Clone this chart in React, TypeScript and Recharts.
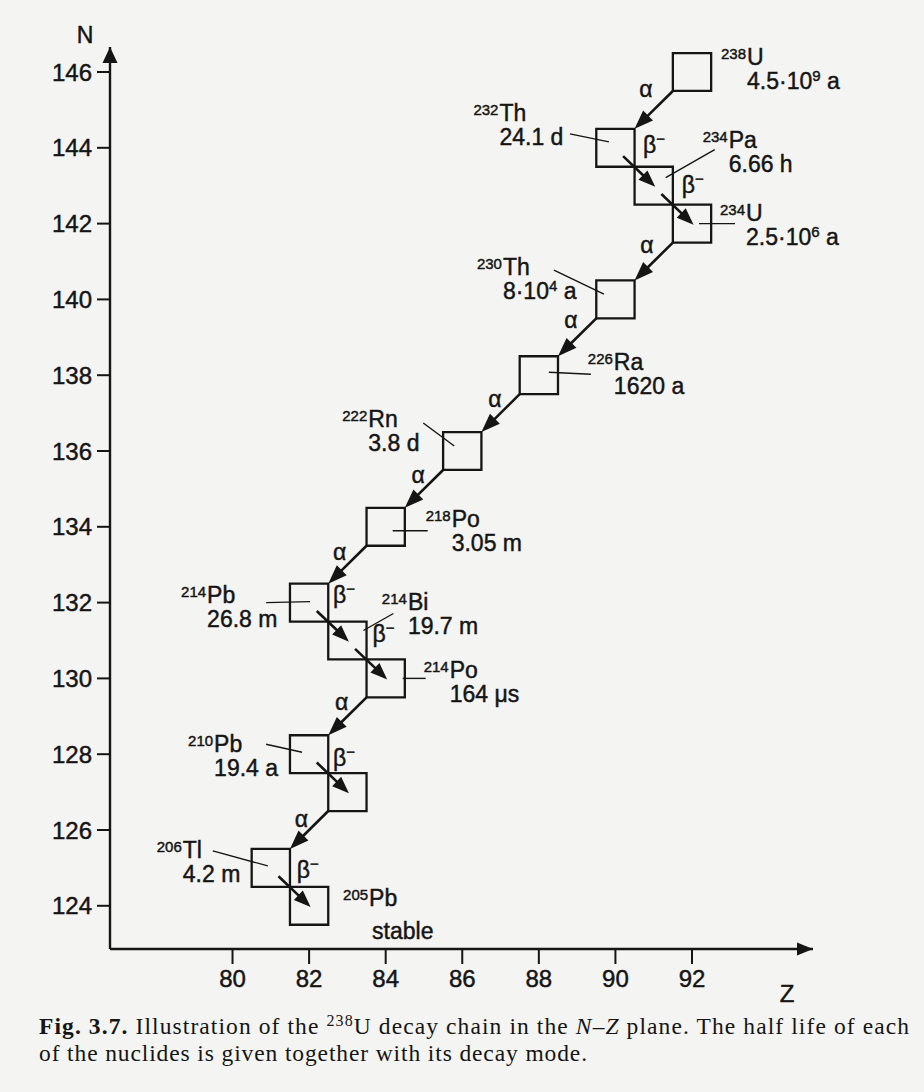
import React from 'react';
import { ScatterChart, Scatter, XAxis, YAxis, ReferenceArea, ReferenceLine, ReferenceDot } from 'recharts';

// ---- data (book typos "232Th" and "205Pb" kept) ----
const protonNumbers = [92, 90, 91, 92, 90, 88, 86, 84, 82, 83, 84, 82, 83, 81, 82];
const neutronNumbers = [146, 144, 143, 142, 140, 138, 136, 134, 132, 131, 130, 128, 127, 125, 124];
const massLabels = ['238', '232', '234', '234', '230', '226', '222', '218', '214', '214', '214', '210', '', '206', '205'];
const elementSymbols = ['U', 'Th', 'Pa', 'U', 'Th', 'Ra', 'Rn', 'Po', 'Pb', 'Bi', 'Po', 'Pb', 'Bi', 'Tl', 'Pb'];
const halfLives = ['4.5·10^9 a', '24.1 d', '6.66 h', '2.5·10^6 a', '8·10^4 a', '1620 a', '3.8 d', '3.05 m', '26.8 m', '19.7 m', '164 μs', '19.4 a', '', '4.2 m', 'stable'];
const decayModes = ['α', 'β', 'β', 'α', 'α', 'α', 'α', 'α', 'β', 'β', 'α', 'β', 'α', 'β'];
const zTicks = [80, 82, 84, 86, 88, 90, 92];
const nTicks = [124, 126, 128, 130, 132, 134, 136, 138, 140, 142, 144, 146];
const zDomain: [number, number] = [76.8, 95.16];
const nDomain: [number, number] = [122.86, 146.66];

const nuclides = protonNumbers.map((z, i) => ({
  index: i,
  z,
  n: neutronNumbers[i],
  mass: massLabels[i],
  symbol: elementSymbols[i],
  halfLife: halfLives[i],
}));

// ---- styling / layout (pixel offsets of labels from each nuclide square) ----
const INK = '#151515';
const SANS = '"Liberation Sans", Arial, Helvetica, sans-serif';
const SERIF = '"Liberation Serif", "Times New Roman", serif';
const LABEL_FS = 23;
const SUP_FS = 15;
const TEXT_STROKE = { stroke: INK, strokeWidth: 0.45 };

type Layout = { sx: number; sy: number; lead: number[] | null; md: number[] | null };
const labelLayout: Layout[] = [
  { sx: 55, sy: -7, lead: null, md: [-46, 25] },
  { sx: -116, sy: -27, lead: [-45.5, -14, -6.5, -6], md: [27.5, 5] },
  { sx: 75, sy: -38, lead: [61, -36, 12, -8], md: [28, 7] },
  { sx: 54, sy: -3, lead: [7, 0, 43, 0], md: [-45, 29] },
  { sx: -112.5, sy: -24, lead: [-61.5, -29.4, -11.5, -5.4], md: [-44.5, 29] },
  { sx: 75, sy: -5, lead: [10, -3, 52, -1], md: [-44, 32] },
  { sx: -94, sy: -24, lead: [-39, -28, -8, -5], md: [-44, 32] },
  { sx: 66, sy: 0, lead: [7, 4, 42, 4], md: [-46, 33] },
  { sx: -102, sy: 0, lead: [-43, 0, 1, -1], md: [24, 0.5] },
  { sx: 60.5, sy: -30.5, lead: [16, -10, 46, -27], md: [25, 1.5] },
  { sx: 64, sy: 0, lead: [17, 0, 40, 0], md: [-44, 31.5] },
  { sx: -95, sy: -2, lead: [-43, -10, -7, -2], md: [24, 12] },
  { sx: 0, sy: 0, lead: null, md: [-46, 35] },
  { sx: -88, sy: -10, lead: [-58, -17, -3, -2], md: [26, 10] },
  { sx: 60, sy: 0, lead: null, md: null },
];

const renderSup = (s: string) => {
  const parts = s.split(/\^(\d+)/);
  const out: React.ReactNode[] = [];
  let raised = false;
  parts.forEach((p, k) => {
    if (k % 2 === 1) {
      out.push(<tspan key={k} fontSize={SUP_FS} dy={-8}>{p}</tspan>);
      raised = true;
    } else if (p) {
      out.push(<tspan key={k} dy={raised ? 8 : 0}>{p}</tspan>);
      raised = false;
    }
  });
  return out;
};

const NuclideLabel = (props: any) => {
  const { cx, cy, payload } = props;
  if (cx == null || cy == null || !payload) return <g />;
  const i = payload.index;
  const L = labelLayout[i];
  const mode = decayModes[i];
  const sx = cx + L.sx;
  const sy = cy + L.sy;
  return (
    <g fontFamily={SANS} fill={INK} style={{ whiteSpace: 'pre' }}>
      {L.lead && (
        <line x1={cx + L.lead[0]} y1={cy + L.lead[1]} x2={cx + L.lead[2]} y2={cy + L.lead[3]} stroke={INK} strokeWidth={1.4} />
      )}
      <g {...TEXT_STROKE}>
        {payload.symbol && payload.mass && (
          <>
            <text x={sx - 1} y={sy - 6} fontSize={SUP_FS} textAnchor="end">{payload.mass}</text>
            <text x={sx} y={sy} fontSize={LABEL_FS}>{payload.symbol}</text>
          </>
        )}
        {payload.halfLife === 'stable' ? (
          <text x={sx + 3} y={sy + 33} fontSize={LABEL_FS}>{payload.halfLife}</text>
        ) : payload.halfLife ? (
          <text x={sx} y={sy + 24} fontSize={LABEL_FS}>{renderSup(payload.halfLife)}</text>
        ) : null}
        {mode && L.md && (mode === 'α' ? (
          <text x={cx + L.md[0]} y={cy + L.md[1]} fontSize={LABEL_FS} textAnchor="middle">α</text>
        ) : (
          <text x={cx + L.md[0]} y={cy + L.md[1]} fontSize={LABEL_FS}>
            β<tspan fontSize={SUP_FS} dy={-9}>−</tspan>
          </text>
        ))}
      </g>
    </g>
  );
};

const makeArrow = (headLen: number, headHalf: number, width: number) => (p: any) => {
  const { x1, y1, x2, y2 } = p;
  if ([x1, y1, x2, y2].some((v) => v == null || Number.isNaN(v))) return <g />;
  const dx = x2 - x1;
  const dy = y2 - y1;
  const len = Math.hypot(dx, dy) || 1;
  const ux = dx / len;
  const uy = dy / len;
  const bx = x2 - ux * headLen;
  const by = y2 - uy * headLen;
  const px = -uy;
  const py = ux;
  return (
    <g>
      <line x1={x1} y1={y1} x2={bx + ux * 2} y2={by + uy * 2} stroke={INK} strokeWidth={width} />
      <polygon
        points={`${x2},${y2} ${bx + px * headHalf},${by + py * headHalf} ${bx - px * headHalf},${by - py * headHalf}`}
        fill={INK}
      />
    </g>
  );
};
const alphaArrow = makeArrow(19, 7, 2.6);
const betaArrow = makeArrow(17, 6.5, 2.6);

const RightHead = (p: any) => (
  <polygon points={`${p.cx},${p.cy} ${p.cx - 16},${p.cy - 6.5} ${p.cx - 16},${p.cy + 6.5}`} fill={INK} />
);
const UpHead = (p: any) => (
  <polygon points={`${p.cx},${p.cy} ${p.cx - 7.5},${p.cy + 16} ${p.cx + 7.5},${p.cy + 16}`} fill={INK} />
);

const transitions = decayModes.map((mode, i) => {
  const z = protonNumbers[i];
  const n = neutronNumbers[i];
  if (mode === 'α') {
    return { mode, from: { x: z - 0.5, y: n - 0.5 }, to: { x: protonNumbers[i + 1] + 0.5, y: neutronNumbers[i + 1] + 0.5 } };
  }
  return { mode, from: { x: z + 0.2, y: n - 0.22 }, to: { x: protonNumbers[i + 1] + 0.04, y: neutronNumbers[i + 1] - 0.03 } };
});

const tickStyle = { fill: INK, fontSize: 24, fontFamily: SANS, stroke: INK, strokeWidth: 0.45 };

export default function App() {
  return (
    <div style={{ position: 'absolute', left: 0, top: 0, width: 924, height: 1092, background: '#f4f4f2', overflow: 'hidden' }}>
      <ScatterChart width={924} height={1092} margin={{ top: 47, right: 111, bottom: 93, left: 40 }}>
        <XAxis
          type="number"
          dataKey="z"
          domain={zDomain}
          ticks={zTicks}
          interval={0}
          height={50}
          tickSize={15}
          tickMargin={6}
          axisLine={{ stroke: INK, strokeWidth: 2.4 }}
          tickLine={{ stroke: INK, strokeWidth: 2 }}
          tick={tickStyle}
          label={(p: any) => {
            const vb = p.viewBox || {};
            return (
              <text x={vb.x + vb.width - 26} y={vb.y + 53} fontSize={24} fontFamily={SANS} fill={INK} stroke={INK} strokeWidth={0.45} textAnchor="middle">Z</text>
            );
          }}
        />
        <YAxis
          type="number"
          dataKey="n"
          domain={nDomain}
          ticks={nTicks}
          interval={0}
          width={70}
          tickSize={13}
          tickMargin={5}
          axisLine={{ stroke: INK, strokeWidth: 2.4 }}
          tickLine={{ stroke: INK, strokeWidth: 2 }}
          tick={tickStyle}
          label={(p: any) => {
            const vb = p.viewBox || {};
            return (
              <text x={vb.x + vb.width - 25} y={vb.y - 4} fontSize={23} fontFamily={SANS} fill={INK} stroke={INK} strokeWidth={0.45} textAnchor="middle">N</text>
            );
          }}
        />
        {nuclides.map((d) => (
          <ReferenceArea
            key={`sq${d.index}`}
            x1={d.z - 0.5}
            x2={d.z + 0.5}
            y1={d.n - 0.5}
            y2={d.n + 0.5}
            fill="none"
            fillOpacity={0}
            stroke={INK}
            strokeWidth={2.3}
            ifOverflow="visible"
          />
        ))}
        {transitions.map((t, i) => (
          <ReferenceLine
            key={`tr${i}`}
            segment={[t.from, t.to]}
            stroke={INK}
            ifOverflow="visible"
            shape={t.mode === 'α' ? alphaArrow : betaArrow}
          />
        ))}
        <ReferenceDot x={zDomain[1]} y={nDomain[0]} ifOverflow="visible" shape={RightHead} />
        <ReferenceDot x={zDomain[0]} y={nDomain[1]} ifOverflow="visible" shape={UpHead} />
        <Scatter data={nuclides} isAnimationActive={false} shape={NuclideLabel} />
      </ScatterChart>
      <svg width={924} height={1092} style={{ position: 'absolute', left: 0, top: 0, pointerEvents: 'none' }}>
        <text x={39} y={1034} fontFamily={SERIF} fontSize={23.5} fill={INK} textLength={870} lengthAdjust="spacing" style={{ whiteSpace: 'pre' }}>
          <tspan fontWeight="bold">Fig. 3.7.</tspan>
          <tspan>{' Illustration of the '}</tspan>
          <tspan fontSize={16} dy={-8}>238</tspan>
          <tspan dy={8}>{'U decay chain in the '}</tspan>
          <tspan fontStyle="italic">N</tspan>
          <tspan>–</tspan>
          <tspan fontStyle="italic">Z</tspan>
          <tspan>{' plane. The half life of each'}</tspan>
        </text>
        <text x={39} y={1061} fontFamily={SERIF} fontSize={23.5} fill={INK} textLength={548} lengthAdjust="spacing">
          of the nuclides is given together with its decay mode.
        </text>
      </svg>
    </div>
  );
}
